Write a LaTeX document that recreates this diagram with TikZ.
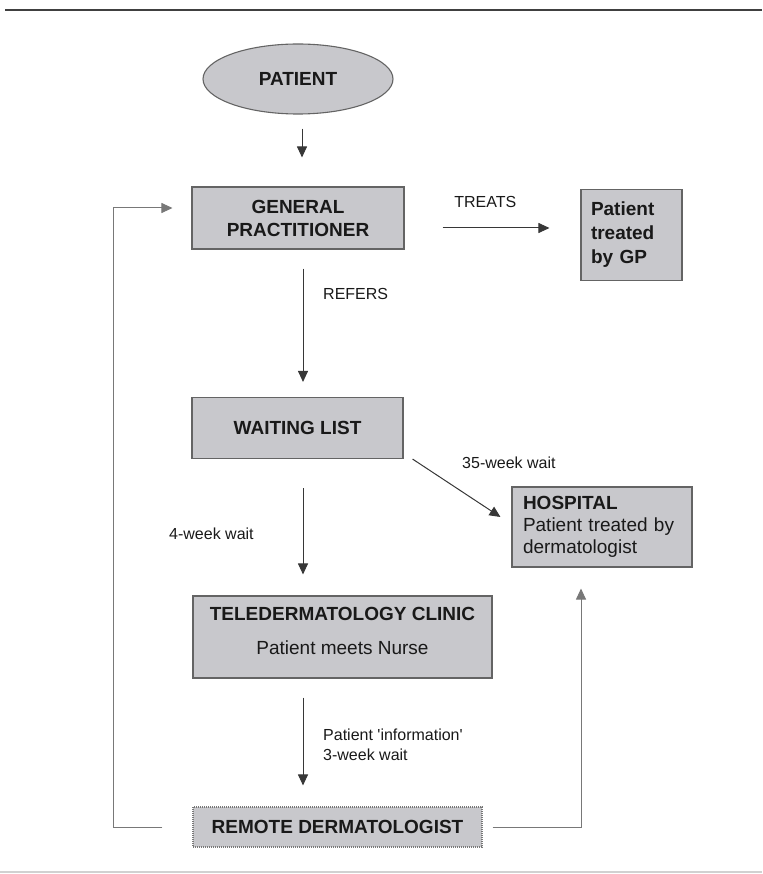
\documentclass[tikz,border=0pt]{standalone}
\usepackage{fontspec}
\setmainfont{Liberation Sans}
\usetikzlibrary{arrows.meta,shapes.geometric,calc}
\definecolor{boxfill}{RGB}{200,200,204}
\definecolor{boxline}{RGB}{100,100,100}
\definecolor{txt}{RGB}{25,25,25}
\definecolor{lineclr}{RGB}{55,55,55}
\definecolor{fbclr}{RGB}{120,120,120}
\begin{document}
\begin{tikzpicture}[x=1pt,y=-1pt,
  boxstyle/.style={draw=boxline, line width=1.1pt, fill=boxfill, text=txt,
    font=\fontsize{19}{22}\selectfont, inner sep=0pt, align=center},
  bold/.style={font=\bfseries\fontsize{19}{23}\selectfont},
  lbl/.style={text=txt, font=\fontsize{16}{20}\selectfont, inner sep=0pt},
  arr/.style={draw=lineclr, line width=1pt, -{Triangle[length=11pt,width=10pt]}},
  fbarr/.style={draw=fbclr, line width=1pt, -{Triangle[length=11pt,width=10pt]}}]
\useasboundingbox (0,0) rectangle (762,874);
% rules
\draw[line width=2.8pt, draw=black!75] (5,10) -- (762,10);
\draw[line width=1.2pt, draw=black!18] (0,872) -- (762,872);
% nodes
\node[boxstyle, ellipse, minimum width=190pt, minimum height=70pt, bold] (pat) at (298,79) {PATIENT};
\node[boxstyle, minimum width=212pt, minimum height=62pt, bold] (gp) at (298,218) {GENERAL\\PRACTITIONER};
\node[boxstyle, minimum width=101pt, minimum height=91pt, font=\bfseries\fontsize{19}{24}\selectfont, text width=81pt, align=left] (treat) at (631.5,235) {Patient\\treated\\by GP};
\node[boxstyle, minimum width=211pt, minimum height=61pt, bold] (wl) at (297.5,428) {WAITING LIST};
\node[boxstyle, minimum width=180pt, minimum height=80pt, text width=158pt, align=left] (hosp) at (602,527) {\textbf{HOSPITAL}\\Patient treated by\\dermatologist};
\node[boxstyle, minimum width=299pt, minimum height=82pt, text depth=12pt] (tele) at (342.5,637) {\textbf{TELEDERMATOLOGY CLINIC}\\[12pt]Patient meets Nurse};
\node[boxstyle, minimum width=289pt, minimum height=40pt, bold, draw=fbclr, dash pattern=on 1pt off 1pt] (rem) at (337.5,827) {REMOTE DERMATOLOGIST};
% connectors
\draw[arr] ($(pat.south)+(4,14)$) -- ($(gp.north)+(4,-29)$);
\draw[arr] ($(gp.east)+(38,10)$) -- node[lbl, above=20pt, pos=0.4] (treats) {TREATS} ($(treat.west)+(-31,-7)$);
\draw[arr] ($(gp.south)+(5,19)$) -- ($(wl.north)+(5.5,-15)$);
\node[lbl, anchor=west] (refers) at (323,294) {REFERS};
\draw[arr] ($(wl.south east)+(9,0)$) -- ($(hosp.west)+(-11,-10)$);
\node[lbl, anchor=west] (w35) at (462,463) {35-week wait};
\draw[arr] ($(wl.south)+(5.5,29)$) -- ($(tele.north)+(-39.5,-21)$);
\node[lbl, anchor=west] (w4) at (169,534) {4-week wait};
\draw[arr] ($(tele.south)+(-39.5,19)$) -- ($(rem.north)+(-34.5,-21)$);
\node[lbl, anchor=west, align=left] (info) at (323,744.5) {Patient \textquotesingle information\textquotesingle\\3-week wait};
\draw[fbarr] ($(rem.west)+(-30,0)$) -| ($(gp.west)+(-78,-10)$) -- ($(gp.west)+(-19,-10)$);
\draw[fbarr] ($(rem.east)+(10,0)$) -| ($(hosp.south)+(-21,21)$);
\end{tikzpicture}
\end{document}
